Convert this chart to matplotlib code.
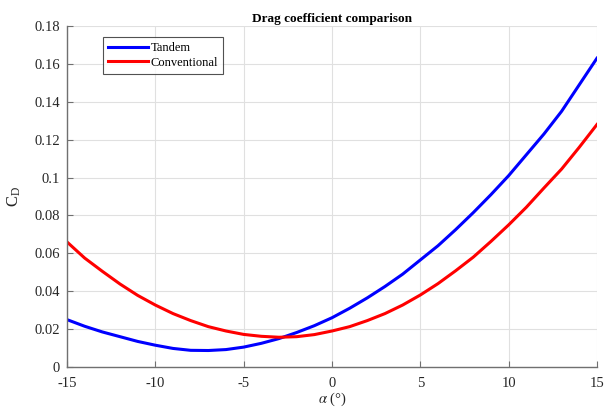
import matplotlib
matplotlib.use("Agg")
import matplotlib.pyplot as plt
import numpy as np

alpha = list(range(-15, 16))
tandem = [0.025, 0.0215, 0.0185, 0.016, 0.0135, 0.0115, 0.0098, 0.0088, 0.0087, 0.0092,
          0.0105, 0.0125, 0.015, 0.0182, 0.0218, 0.026, 0.031, 0.0365, 0.0425, 0.049,
          0.0565, 0.064, 0.0725, 0.0815, 0.091, 0.101, 0.112, 0.123, 0.135, 0.149, 0.163]
conventional = [0.066, 0.0575, 0.0505, 0.0438, 0.0378, 0.0327, 0.0282, 0.0245, 0.0213, 0.019,
                0.0172, 0.0162, 0.0157, 0.016, 0.0171, 0.019, 0.0213, 0.0245, 0.0282, 0.0327,
                0.038, 0.044, 0.0508, 0.058, 0.0663, 0.075, 0.0843, 0.0945, 0.1045, 0.116, 0.128]
xticks = [-15, -10, -5, 0, 5, 10, 15]
yticks = [0, 0.02, 0.04, 0.06, 0.08, 0.1, 0.12, 0.14, 0.16, 0.18]
ytick_labels = ["0", "0.02", "0.04", "0.06", "0.08", "0.1", "0.12", "0.14", "0.16", "0.18"]

plt.rcParams['font.family'] = ['Liberation Serif', 'DejaVu Serif']
plt.rcParams['mathtext.fontset'] = 'stix'

fig = plt.figure(figsize=(6.11, 4.09), dpi=100)
ax = fig.add_axes([0.1097, 0.1027, 0.977 - 0.1097, 0.9364 - 0.1027])
ax.plot(alpha, tandem, color='#0000ff', lw=2.2, label='Tandem', solid_joinstyle='round')
ax.plot(alpha, conventional, color='#ff0000', lw=2.2, label='Conventional', solid_joinstyle='round')
ax.set_xlim(-15, 15)
ax.set_ylim(0, 0.18)
ax.set_xticks(xticks)
ax.set_xticklabels([str(t) for t in xticks])
ax.set_yticks(yticks)
ax.set_yticklabels(ytick_labels)
ax.grid(True, color='#e0e0e0', lw=0.8)
ax.set_axisbelow(True)
for s in ['top', 'right']:
    ax.spines[s].set_visible(False)
for s in ['left', 'bottom']:
    ax.spines[s].set_color('#707070')
    ax.spines[s].set_linewidth(1.0)
ax.tick_params(direction='in', length=4, colors='#707070', labelcolor='#262626', labelsize=10.5)
ax.tick_params(axis='x', pad=7)
ax.tick_params(axis='y', pad=5)
ax.set_title('Drag coefficient comparison', fontsize=9.5, fontweight='bold', pad=3)
ax.set_xlabel(r'$\alpha$ (°)', fontsize=10.5, color='#262626', labelpad=1)
ax.set_ylabel(r'C$_\mathregular{D}$', fontsize=12, color='#262626', labelpad=8)
leg = ax.legend(loc='upper left', bbox_to_anchor=(0.068, 0.967), fontsize=9, frameon=True,
                fancybox=False, edgecolor='#262626', handlelength=3.2, handletextpad=0.2,
                borderpad=0.4, labelspacing=0.2, borderaxespad=0)
leg.get_frame().set_linewidth(0.8)
fig.savefig('out.png', dpi=100)
